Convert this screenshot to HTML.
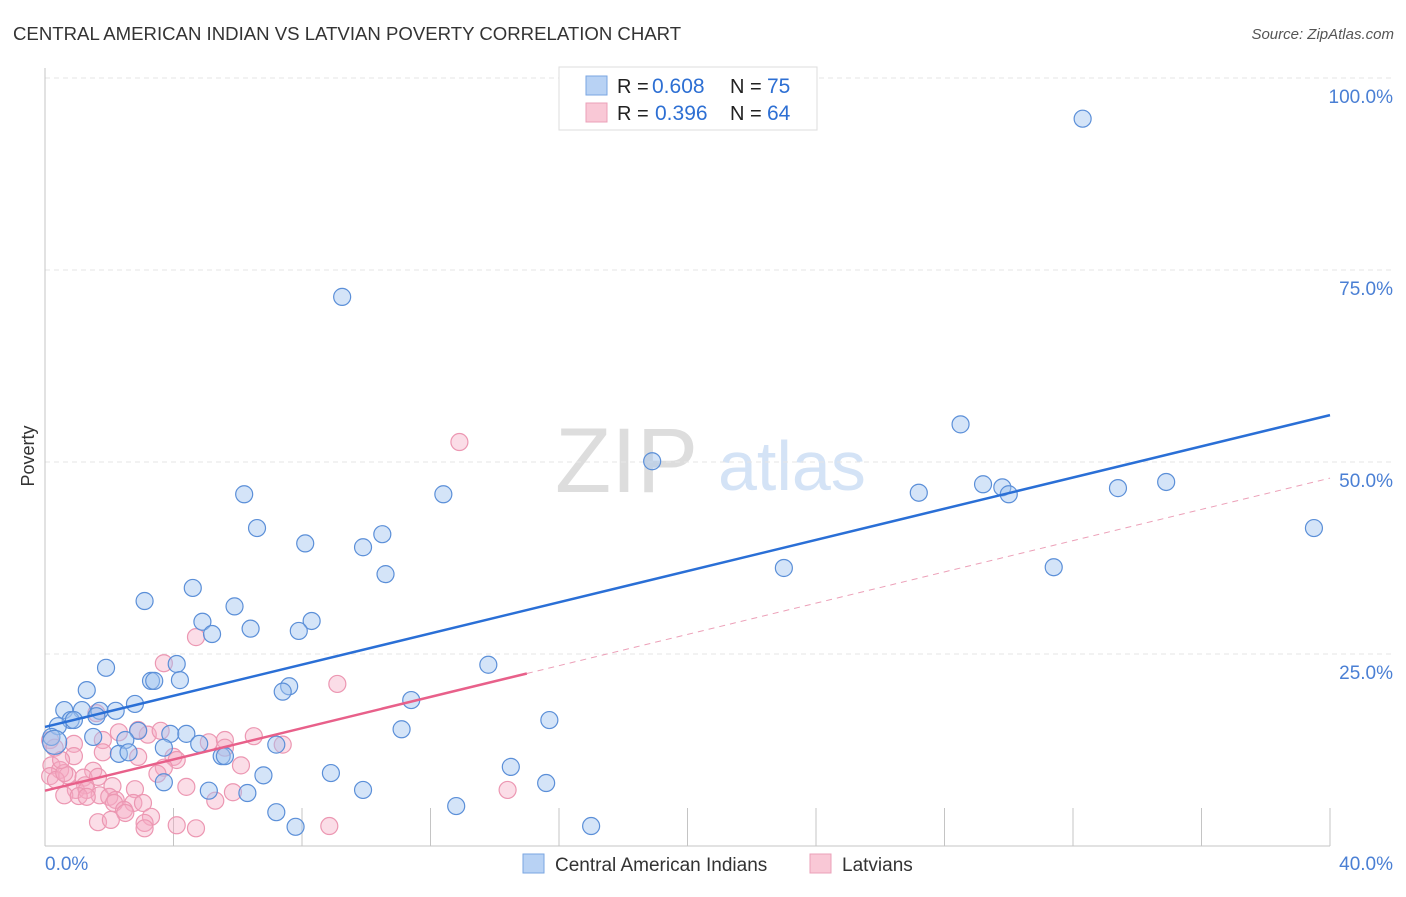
<!DOCTYPE html>
<html><head><meta charset="utf-8"><style>
body{margin:0;background:#fff;font-family:"Liberation Sans",sans-serif}
svg text{font-family:"Liberation Sans",sans-serif}
</style></head><body>
<svg width="1406" height="892" viewBox="0 0 1406 892" xmlns="http://www.w3.org/2000/svg">
<text x="13" y="40" font-size="18.6" fill="#333">CENTRAL AMERICAN INDIAN VS LATVIAN POVERTY CORRELATION CHART</text>
<text x="1394" y="39" font-size="15" fill="#555" font-style="italic" text-anchor="end">Source: ZipAtlas.com</text>
<g>
<text x="555" y="492" font-size="92" fill="#ddd" font-family="Liberation Serif,serif">ZIP</text>
<text x="718" y="490" font-size="70" fill="#d4e3f6">atlas</text>
</g>
<g id="grid"></g>
<g id="axes"></g>
<g id="pts"></g>
<g id="trends"></g>
<text x="34" y="456" font-size="18" fill="#333" text-anchor="middle" transform="rotate(-90 34 456)">Poverty</text>
<g>
<rect x="559" y="67" width="258" height="63" fill="#fff" stroke="#ddd"/>
<rect x="586" y="76" width="21" height="19" fill="#b8d2f4" stroke="#7aa6e2"/>
<rect x="586" y="103" width="21" height="19" fill="#f9c8d6" stroke="#eba0b8"/>
<text x="617" y="93" font-size="20" fill="#222">R =</text>
<text x="652" y="93" font-size="21" fill="#2d6fd3">0.608</text>
<text x="730" y="93" font-size="20" fill="#222">N =</text>
<text x="767" y="93" font-size="21" fill="#2d6fd3">75</text>
<text x="617" y="120" font-size="20" fill="#222">R =</text>
<text x="655" y="120" font-size="21" fill="#2d6fd3">0.396</text>
<text x="730" y="120" font-size="20" fill="#222">N =</text>
<text x="767" y="120" font-size="21" fill="#2d6fd3">64</text>
</g>
<g>
<rect x="523" y="854" width="21" height="19" fill="#b8d2f4" stroke="#7aa6e2"/>
<text x="555" y="871" font-size="19" fill="#333">Central American Indians</text>
<rect x="810" y="854" width="21" height="19" fill="#f9c8d6" stroke="#eba0b8"/>
<text x="842" y="871" font-size="19" fill="#333">Latvians</text>
</g>
</svg>
<script>
const blueX=[32.3,9.25,28.5,18.9,6.2,12.4,27.2,29.2,29.8,30.0,33.4,34.9,39.5,6.6,10.5,8.1,9.9,10.6,23.0,31.4,4.6,3.1,5.9,4.9,5.2,6.4,8.3,7.9,1.9,4.1,13.8,3.3,3.4,4.2,1.3,7.6,7.4,11.4,2.8,0.6,1.15,1.7,2.2,0.8,0.9,1.6,15.7,2.9,11.1,0.4,0.2,0.3,1.5,3.9,4.4,2.5,3.7,4.8,7.2,2.3,2.6,5.5,5.6,14.5,6.8,8.9,3.7,15.6,5.1,6.3,9.9,12.8,7.2,7.8,17.0];
const blueY=[94.7,71.5,54.9,50.1,45.8,45.8,46.0,47.1,46.7,45.8,46.6,47.4,41.4,41.4,40.6,39.4,38.9,35.4,36.2,36.3,33.6,31.9,31.2,29.2,27.6,28.3,29.3,28.0,23.2,23.7,23.6,21.5,21.5,21.6,20.3,20.8,20.1,19.0,18.5,17.7,17.7,17.6,17.6,16.4,16.4,16.9,16.4,15.0,15.2,15.6,14.2,13.5,14.2,14.6,14.6,13.8,12.8,13.3,13.2,12.0,12.2,11.7,11.7,10.3,9.2,9.5,8.3,8.2,7.2,6.9,7.3,5.2,4.4,2.5,2.6];
const pinkX=[12.9,4.7,3.7,9.1,1.6,3.2,0.16,0.3,0.9,1.8,2.3,5.1,5.6,6.5,7.4,5.6,0.9,1.8,2.9,4.0,4.1,0.2,0.47,0.7,1.5,3.7,3.5,6.1,0.16,0.34,0.6,1.2,1.65,1.25,0.96,1.3,1.7,2.1,2.8,4.4,5.85,0.6,1.05,2.0,2.2,1.3,2.15,2.75,3.05,2.46,2.5,3.3,3.1,3.1,1.65,2.05,4.1,4.7,5.3,8.85,14.4,3.6,2.9,0.5];
const pinkY=[52.6,27.2,23.8,21.1,17.3,14.5,13.8,12.8,13.3,13.8,14.8,13.5,13.8,14.3,13.2,12.8,11.7,12.2,11.6,11.6,11.2,10.5,9.9,9.2,9.8,10.2,9.4,10.5,9.1,8.6,9.5,8.9,9.0,7.9,7.3,7.3,6.6,7.8,7.4,7.7,7.0,6.6,6.5,6.4,6.0,6.4,5.6,5.6,5.6,4.7,4.3,3.8,3.0,2.3,3.1,3.4,2.7,2.3,5.9,2.6,7.3,15.0,15.1,11.2];
const blueTrend=[15.5,56.1];
const pinkTrend=[7.2,47.9];
const pinkSolidEnd=15.0;
const yTicks=[25,50,75,100];
const yTickLabels=["25.0%","50.0%","75.0%","100.0%"];
const xTicks=[0,4,8,12,16,20,24,28,32,36,40];
const NS="http://www.w3.org/2000/svg";
const sx=v=>45+v/40*1285, sy=v=>846-v/100*768;
function mk(tag,attrs,parent){const e=document.createElementNS(NS,tag);for(const k in attrs)e.setAttribute(k,attrs[k]);document.getElementById(parent).appendChild(e);return e;}
yTicks.forEach((t,i)=>{
 const g=mk('line',{x1:45,x2:1395,y1:sy(t),y2:sy(t),stroke:'#e6e6e6','stroke-dasharray':'5,4'},'grid');
 
 
 const l=mk('text',{x:1393,y:sy(t)+25,'font-size':19,fill:'#4a7fd4','text-anchor':'end'},'grid');
 l.textContent=yTickLabels[i];
 
 
});
let a=mk('line',{x1:45,x2:45,y1:68,y2:846,stroke:'#c4c4c4'},'axes');


a=mk('line',{x1:45,x2:1330,y1:846,y2:846,stroke:'#c4c4c4'},'axes');


xTicks.forEach(t=>{const e=mk('line',{x1:sx(t),x2:sx(t),y1:808,y2:846,stroke:'#c4c4c4'},'axes');
 
 });
let xl=mk('text',{x:45,y:870,'font-size':19,fill:'#4a7fd4'},'axes');xl.textContent='0.0%';


xl=mk('text',{x:1393,y:870,'font-size':19,fill:'#4a7fd4','text-anchor':'end'},'axes');xl.textContent='40.0%';


pinkX.forEach((x,i)=>{const c=mk('circle',{cx:sx(x),cy:sy(pinkY[i]),r:8.5,fill:'rgba(246,170,196,0.4)',stroke:'#ec97b2','stroke-width':1.2},'pts');
 
 });
blueX.forEach((x,i)=>{const c=mk('circle',{cx:sx(x),cy:sy(blueY[i]),r:(i==51?12:8.5),fill:'rgba(160,196,240,0.45)',stroke:'#5b8fd8','stroke-width':1.2},'pts');
 
 });
let t=mk('line',{x1:sx(0),y1:sy(blueTrend[0]),x2:sx(40),y2:sy(blueTrend[1]),stroke:'#2a6fd6','stroke-width':2.5},'trends');


const py=x=>pinkTrend[0]+(pinkTrend[1]-pinkTrend[0])*x/40;
t=mk('line',{x1:sx(0),y1:sy(py(0)),x2:sx(pinkSolidEnd),y2:sy(py(pinkSolidEnd)),stroke:'#e8608a','stroke-width':2.5},'trends');


t=mk('line',{x1:sx(pinkSolidEnd),y1:sy(py(pinkSolidEnd)),x2:sx(40),y2:sy(py(40)),stroke:'#eca0b8','stroke-width':1,'stroke-dasharray':'6,5'},'trends');


</script>
</body></html>
